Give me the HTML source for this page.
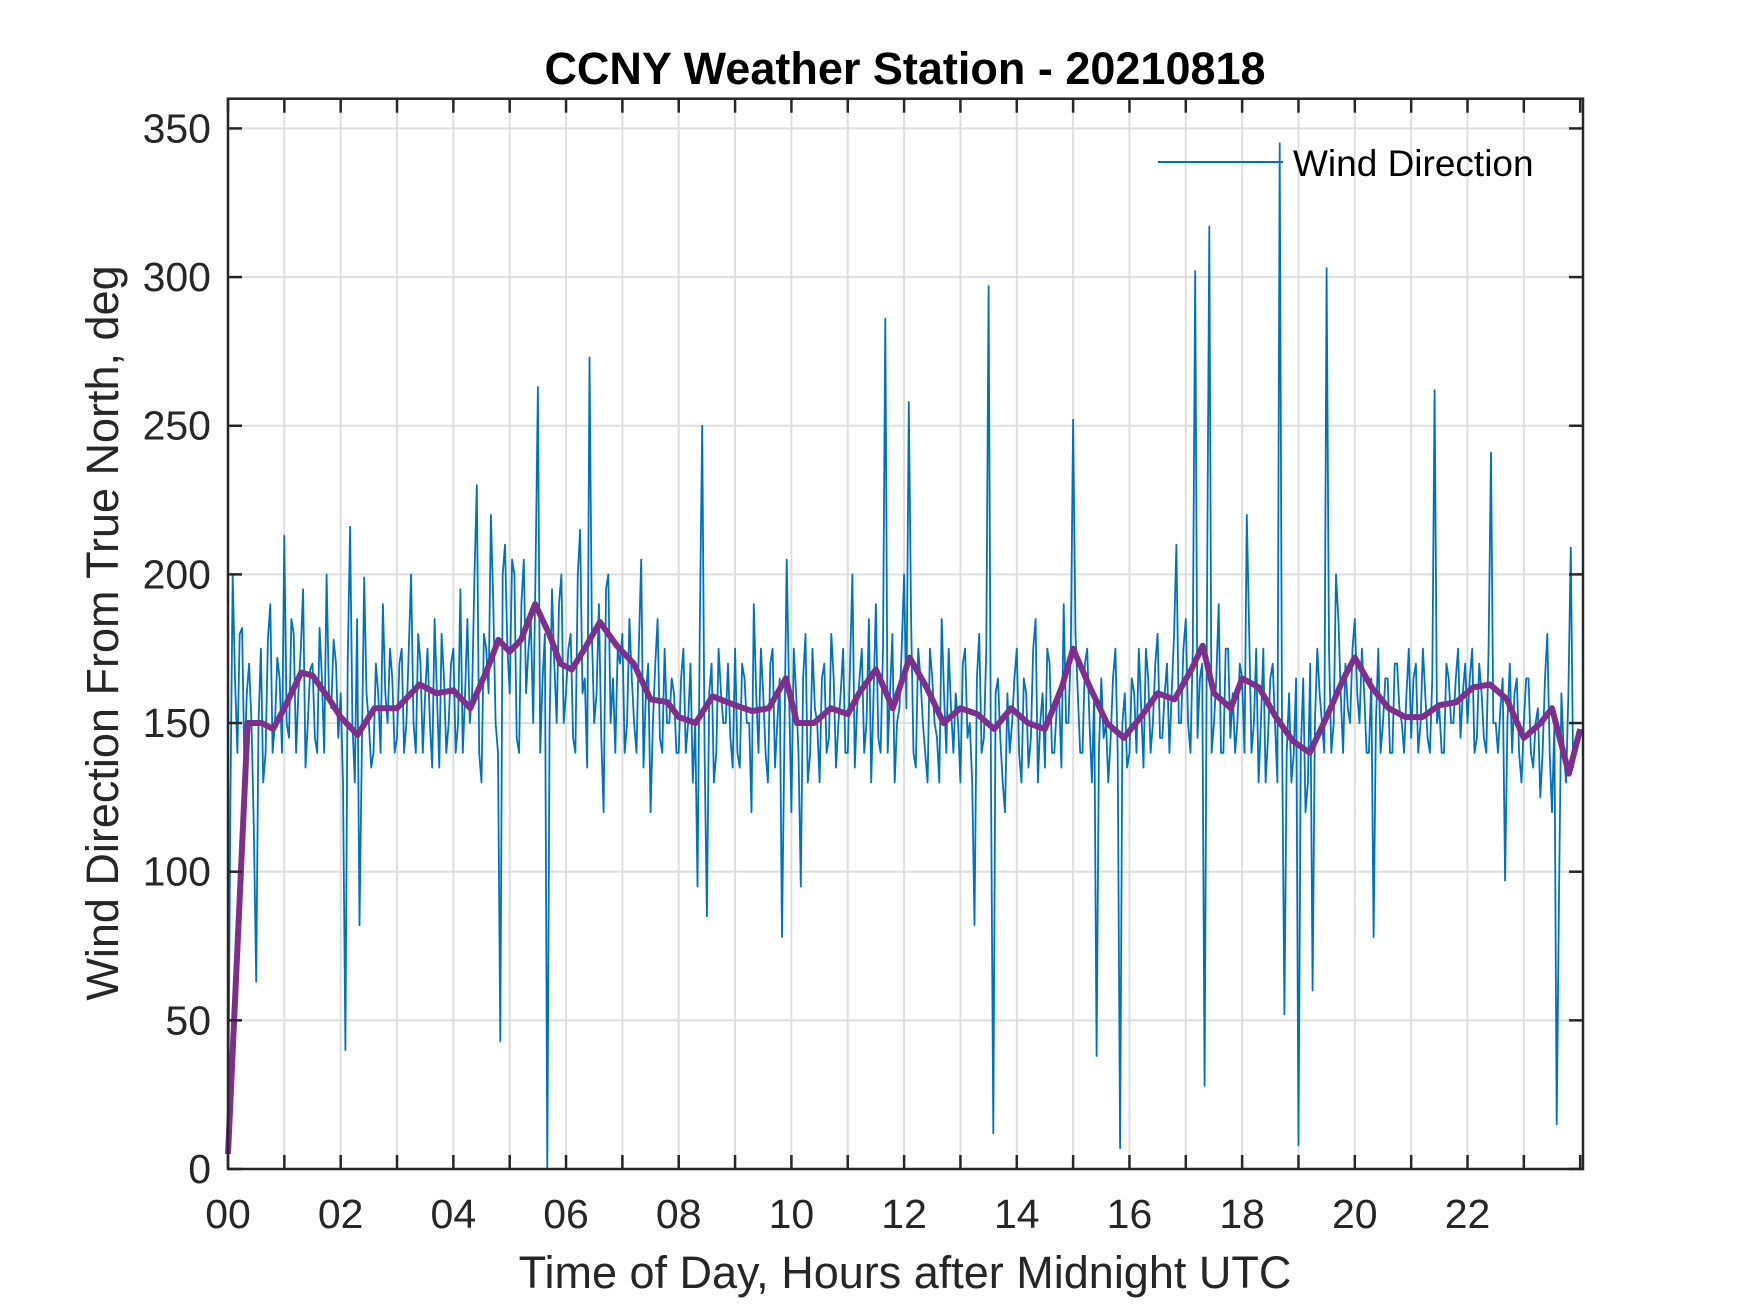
<!DOCTYPE html>
<html><head><meta charset="utf-8"><style>
html,body{margin:0;padding:0;background:#fff;}
svg{display:block;font-family:"Liberation Sans",Arial,sans-serif;}
</style></head><body>
<svg id="chart" width="1750" height="1313" viewBox="0 0 1750 1313">
<rect width="1750" height="1313" fill="#fff"/>
<g id="grid"></g>
<g id="series"></g>
<g id="axes"></g>
<text x="905" y="84" text-anchor="middle" font-size="45" font-weight="bold" fill="#000">CCNY Weather Station - 20210818</text>
<text x="905" y="1288" text-anchor="middle" font-size="45" fill="#262626">Time of Day, Hours after Midnight UTC</text>
<text transform="translate(118,633) rotate(-90)" text-anchor="middle" font-size="45" fill="#262626">Wind Direction From True North, deg</text>
<g>
<line x1="1158" y1="162" x2="1283" y2="162" stroke="#0072BD" stroke-width="2"/>
<text x="1293" y="176" font-size="37" fill="#000">Wind Direction</text>
</g>
</svg>
<script>
const blueValues = [
5,200,140,182,160,150,63,175,140,190,150,165,
213,145,180,160,195,150,170,140,165,200,155,170,
160,40,216,130,82,199,150,140,160,190,150,165,
145,175,150,200,140,170,160,150,185,135,165,150,
175,150,140,185,160,230,130,175,220,150,43,210,
160,200,140,205,175,150,263,165,0,195,150,200,
160,180,140,215,165,273,150,190,120,200,165,175,
180,150,165,140,205,160,120,170,145,175,150,160,
140,175,150,130,95,250,85,170,140,160,150,145,
175,135,165,150,190,140,160,130,175,150,78,205,
120,160,95,180,140,155,130,170,145,165,150,175,
140,200,155,175,150,130,190,140,286,160,130,155,
200,258,140,175,150,130,165,145,185,140,155,160,
130,175,150,82,180,145,297,12,165,130,160,150,
175,130,160,145,185,150,135,170,140,160,190,150,
252,160,140,175,130,38,165,150,145,175,7,160,
140,160,175,135,165,150,180,145,170,160,210,150,
185,140,302,165,28,317,150,190,140,175,160,150,
165,220,140,175,150,130,165,150,345,52,160,140,
8,165,130,60,175,150,303,140,200,160,170,150,
185,150,160,140,78,175,150,165,140,170,150,160,
145,170,150,160,140,262,155,140,165,150,175,160,
150,175,145,160,140,241,150,155,97,170,160,140,
150,165,135,155,140,180,120,15,160,130,209,145];
const blueValuesMid = [
120,165,180,135,170,115,150,130,178,140,172,140,
150,185,140,175,135,168,145,182,140,160,178,145,
130,170,150,185,140,160,135,170,140,160,175,140,
170,140,175,150,180,140,175,135,160,180,140,170,
140,195,160,150,200,140,180,160,190,140,200,175,
205,145,190,160,185,200,140,180,150,170,190,150,
175,145,200,160,135,180,160,145,195,150,140,170,
140,185,150,175,135,170,150,185,140,150,165,140,
165,140,170,150,185,140,160,130,175,150,170,135,
140,170,150,120,160,175,140,170,135,165,145,160,
175,140,165,130,175,150,165,140,180,135,160,140,
170,135,165,140,185,160,145,175,140,180,150,175,
155,185,135,165,140,175,150,130,160,175,140,150,
170,145,130,165,140,175,130,160,145,120,140,165,
140,165,135,175,130,160,175,140,155,135,150,175,
180,140,170,150,160,140,145,130,165,140,150,135,
165,140,155,175,140,170,145,160,140,180,150,175,
150,175,145,170,185,140,165,140,175,145,140,170,
140,180,150,130,175,145,170,130,150,140,130,165,
140,120,170,150,160,140,175,150,185,140,155,175,
160,175,140,165,150,140,165,140,170,155,140,175,
165,140,175,145,165,150,140,170,150,165,145,170,
165,140,170,145,175,150,140,165,150,140,165,130,
165,140,150,125,165,140,150,95,140,160,135,150];
const avgTimes = [0,0.35,0.6,0.8,1.0,1.3,1.5,1.8,2.0,2.3,2.6,3.0,3.4,3.7,4.0,4.3,4.6,4.8,5.0,5.2,5.45,5.7,5.9,6.1,6.3,6.6,6.9,7.2,7.5,7.8,8.0,8.3,8.6,9.0,9.3,9.6,9.9,10.1,10.4,10.7,11.0,11.2,11.5,11.8,12.1,12.4,12.7,13.0,13.3,13.6,13.9,14.2,14.5,14.8,15.0,15.3,15.6,15.9,16.2,16.5,16.8,17.1,17.3,17.5,17.8,18.0,18.3,18.6,18.9,19.2,19.5,19.8,20.0,20.3,20.6,20.9,21.2,21.5,21.8,22.1,22.4,22.7,23.0,23.3,23.5,23.8,24.0];
const avgValues = [5,150,150,148,155,167,166,158,152,146,155,155,163,160,161,155,168,178,174,178,190,180,170,168,174,184,176,170,158,157,152,150,159,156,154,155,165,150,150,155,153,160,168,155,172,162,150,155,153,148,155,150,148,162,175,162,150,145,152,160,158,168,176,160,155,165,162,152,144,140,152,165,172,162,155,152,152,156,157,162,163,158,145,150,155,133,148];
const xTickLabels = ["00","02","04","06","08","10","12","14","16","18","20","22"];
const yTickValues = [0,50,100,150,200,250,300,350];

const X0=228,X1=1583,Y0=1169,Y1=98.7,XMAX=24.05,YMAX=360;
const xs=t=>X0+(X1-X0)*t/XMAX;
const ys=v=>Y0-(Y0-Y1)*v/YMAX;
const NS="http://www.w3.org/2000/svg";
function mk(tag,attrs,parent){const e=document.createElementNS(NS,tag);for(const k in attrs)e.setAttribute(k,attrs[k]);parent.appendChild(e);return e;}
const grid=document.getElementById('grid'),series=document.getElementById('series'),axes=document.getElementById('axes');

for(let h=1;h<24;h++){
  const l=mk('line',{x1:xs(h),x2:xs(h),y1:Y1,y2:Y0,stroke:'#dedede','stroke-width':2},grid);
  
  
}
yTickValues.forEach(v=>{
  if(v===0)return;
  const l=mk('line',{x1:X0,x2:X1,y1:ys(v),y2:ys(v),stroke:'#dedede','stroke-width':2},grid);
  
  
});

const pts=[];
blueValues.forEach((v,i)=>{
  pts.push(xs(i/12).toFixed(1)+','+ys(v).toFixed(1));
  if(i<blueValuesMid.length && i<blueValues.length-1) pts.push(xs((i+0.5)/12).toFixed(1)+','+ys(blueValuesMid[i]).toFixed(1));
});
const bl=mk('polyline',{points:pts.join(' '),fill:'none',stroke:'#0072BD','stroke-width':1.8,'stroke-linejoin':'round'},series);


const ap=avgValues.map((v,i)=>xs(avgTimes[i]).toFixed(1)+','+ys(v).toFixed(1)).join(' ');
const al=mk('polyline',{points:ap,fill:'none',stroke:'#7E2F8E','stroke-width':6,'stroke-linejoin':'round'},series);



const box=mk('rect',{x:X0,y:Y1,width:X1-X0,height:Y0-Y1,fill:'none',stroke:'#262626','stroke-width':2.5},axes);


for(let h=0;h<=24;h++){
  const x=xs(h);
  mk('line',{x1:x,x2:x,y1:Y0,y2:Y0-14,stroke:'#262626','stroke-width':2.5},axes);
  mk('line',{x1:x,x2:x,y1:Y1,y2:Y1+14,stroke:'#262626','stroke-width':2.5},axes);
}
xTickLabels.forEach((s,i)=>{
  const t=mk('text',{x:xs(i*2),y:1228,'text-anchor':'middle','font-size':41,fill:'#262626'},axes);
  t.textContent=s;
  
  
});
yTickValues.forEach(v=>{
  const y=ys(v);
  mk('line',{x1:X0,x2:X0+14,y1:y,y2:y,stroke:'#262626','stroke-width':2.5},axes);
  mk('line',{x1:X1,x2:X1-14,y1:y,y2:y,stroke:'#262626','stroke-width':2.5},axes);
  const t=mk('text',{x:211,y:y+14,'text-anchor':'end','font-size':41,fill:'#262626'},axes);
  t.textContent=String(v);
  
  
});
</script>
</body></html>
